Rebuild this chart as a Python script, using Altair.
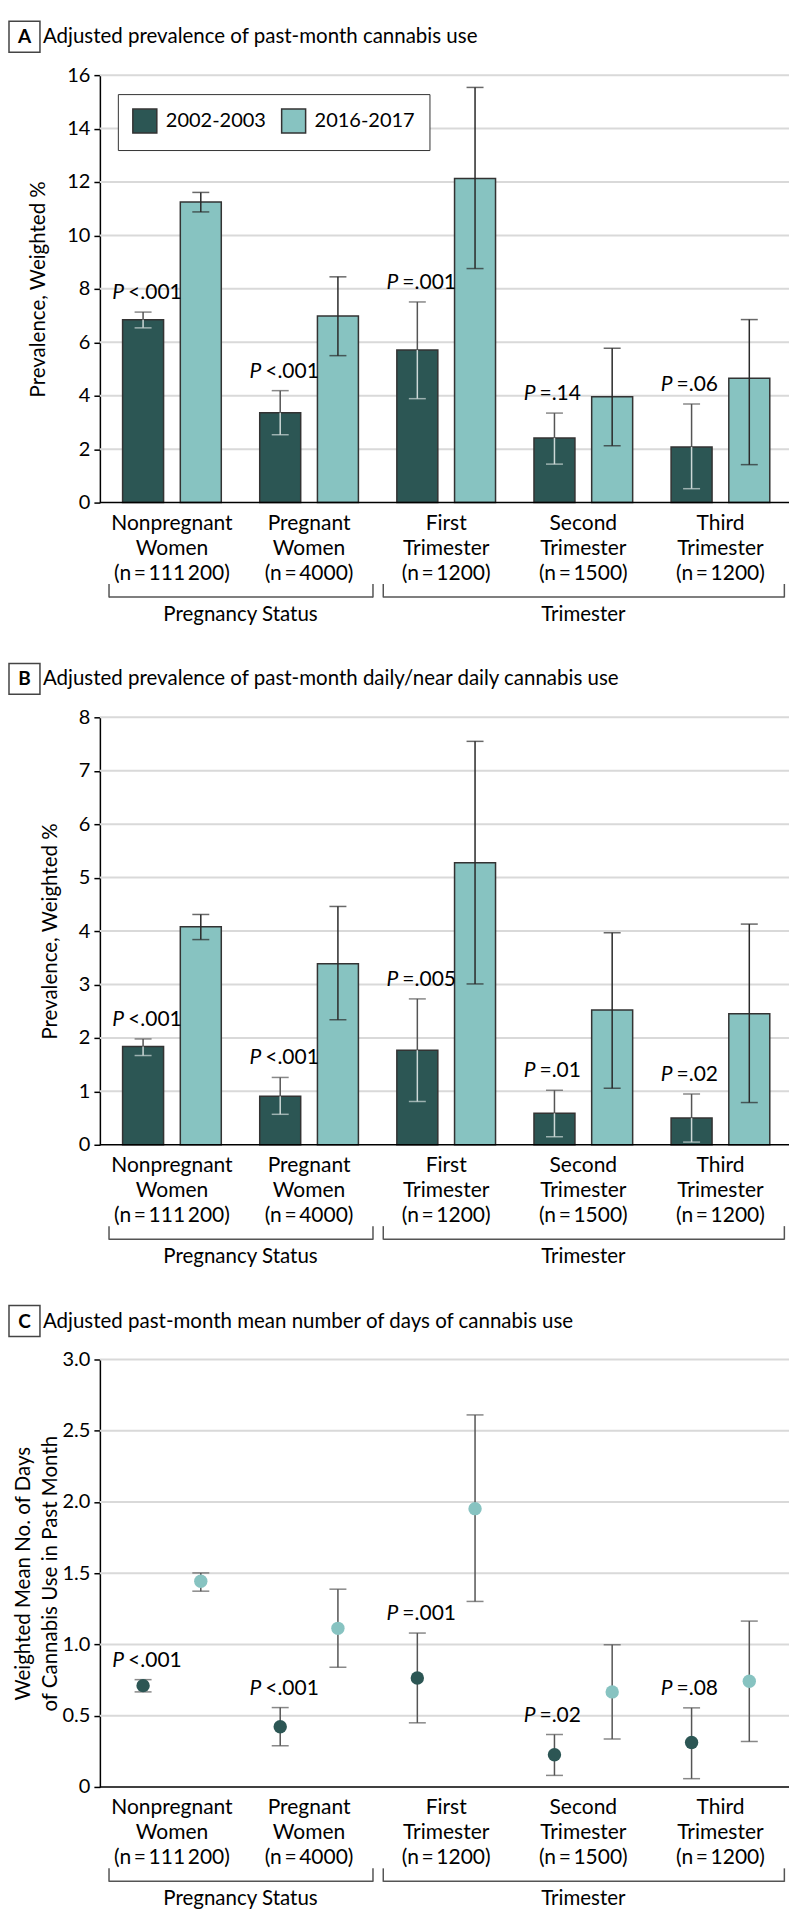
import altair as alt
import pandas as pd

FONT = "Lato"
DARK = "#2c5654"
LIGHT = "#87c3c1"
ERR_GRAY = "#555555"
ERR_LIGHT = "#cdd8d7"

TS = "\u2009"
groups = [
    f"Nonpregnant|Women|(n{TS}={TS}111{TS}200)",
    f"Pregnant|Women|(n{TS}={TS}4000)",
    f"First|Trimester|(n{TS}={TS}1200)",
    f"Second|Trimester|(n{TS}={TS}1500)",
    f"Third|Trimester|(n{TS}={TS}1200)",
]
periods = ["2002-2003", "2016-2017"]
bracket_labels = ["Pregnancy Status", "Trimester"]
bracket_start = [groups[0], groups[2]]
bracket_end = [groups[1], groups[4]]

# Panel A: past-month cannabis use (%)
a_title = "Adjusted prevalence of past-month cannabis use"
a_dark = [6.84, 3.36, 5.71, 2.42, 2.08]
a_dark_lo = [6.54, 2.54, 3.89, 1.44, 0.52]
a_dark_hi = [7.13, 4.19, 7.51, 3.35, 3.69]
a_light = [11.25, 6.98, 12.13, 3.96, 4.65]
a_light_lo = [10.88, 5.50, 8.76, 2.13, 1.42]
a_light_hi = [11.61, 8.45, 15.54, 5.78, 6.85]
a_p = ["<.001", "<.001", "=.001", "=.14", "=.06"]

# Panel B: daily/near daily use (%)
b_title = "Adjusted prevalence of past-month daily/near daily cannabis use"
b_dark = [1.84, 0.91, 1.77, 0.59, 0.50]
b_dark_lo = [1.67, 0.57, 0.81, 0.15, 0.05]
b_dark_hi = [1.98, 1.26, 2.73, 1.02, 0.95]
b_light = [4.08, 3.39, 5.28, 2.52, 2.45]
b_light_lo = [3.84, 2.34, 3.01, 1.06, 0.79]
b_light_hi = [4.31, 4.46, 7.55, 3.97, 4.13]
b_p = ["<.001", "<.001", "=.005", "=.01", "=.02"]

# Panel C: mean number of days
c_title = "Adjusted past-month mean number of days of cannabis use"
c_dark = [0.711, 0.422, 0.765, 0.226, 0.312]
c_dark_lo = [0.667, 0.289, 0.450, 0.081, 0.058]
c_dark_hi = [0.753, 0.557, 1.080, 0.368, 0.555]
c_light = [1.444, 1.113, 1.953, 0.667, 0.742]
c_light_lo = [1.374, 0.840, 1.302, 0.336, 0.319]
c_light_hi = [1.502, 1.388, 2.611, 0.998, 1.164]
c_p = ["<.001", "<.001", "=.001", "=.02", "=.08"]


def long_df(dark, dark_lo, dark_hi, light, light_lo, light_hi):
    rows = []
    for i, g in enumerate(groups):
        rows.append(dict(group=g, period=periods[0], value=dark[i], lo=dark_lo[i], hi=dark_hi[i]))
        rows.append(dict(group=g, period=periods[1], value=light[i], lo=light_lo[i], hi=light_hi[i]))
    return pd.DataFrame(rows)


W, H = 690, 428
xscale = alt.Scale(domain=groups, range=[3.5, 690], paddingInner=0, paddingOuter=0)
offscale = alt.Scale(domain=periods, paddingInner=0.29, paddingOuter=0.333)
xaxis = alt.Axis(
    title=None, labelExpr="split(datum.label, '|')", ticks=False, labelAngle=0,
    labelFontSize=21, labelLineHeight=25, labelPadding=10, labelColor="black",
    domain=False, labelOverlap=False, grid=False,
)


def X(bp=None):
    kw = dict(scale=xscale, axis=xaxis, sort=groups)
    if bp is not None:
        kw["bandPosition"] = bp
    return alt.X("group:N", **kw)


def XO():
    return alt.XOffset("period:N", scale=offscale, sort=periods)


def panel(letter, title, df, pvals, ymax, ystep, ytitle, kind, label_expr, show_legend, title_pad):
    yscale = alt.Scale(domain=[0, ymax], nice=False, zero=True)
    nsteps = int(round(ymax / ystep))
    yvals = [round(i * ystep, 3) for i in range(nsteps + 1)]
    yaxis = alt.Axis(
        title=ytitle, values=yvals, grid=False,
        domainColor="black", domainWidth=1.5, tickColor="black", tickSize=6, tickWidth=1.5,
        labelFontSize=20, labelPadding=4, labelColor="black", labelExpr=label_expr,
        titleFontSize=20.5, titleFontWeight="normal", titleColor="black", titlePadding=title_pad,
        titleLineHeight=27,
    )

    def Y(field):
        return alt.Y(f"{field}:Q", scale=yscale, axis=yaxis)

    head = pd.DataFrame({"letter": [letter], "title": [title]})
    grid_df = pd.DataFrame({"tick": yvals[1:]})
    grid = alt.Chart(grid_df).mark_rule(color="#d9d9d9", strokeWidth=2).encode(
        y=Y("tick"), x=alt.value(0), x2=alt.value(W))
    xdomain = alt.Chart(head).mark_rule(color="black", strokeWidth=1.5).encode(
        y=alt.value(H), x=alt.value(0), x2=alt.value(W))
    box = alt.Chart(head).mark_rect(fill="white", stroke="#444", strokeWidth=1.5).encode(
        x=alt.value(-91), x2=alt.value(-60), y=alt.value(-54), y2=alt.value(-23)
    )
    letter_t = alt.Chart(head).mark_text(fontSize=19, fontWeight="bold", align="center", baseline="middle").encode(
        x=alt.value(-75.5), y=alt.value(-38), text="letter:N"
    )
    title_t = alt.Chart(head).mark_text(fontSize=20.5, align="left", baseline="middle").encode(
        x=alt.value(-57), y=alt.value(-38), text="title:N"
    )

    if show_legend:
        legend = alt.Legend(
            title=None, orient="none", legendX=18, legendY=19, direction="horizontal", columns=2,
            strokeColor="#333", fillColor="white", padding=14, symbolType="square", symbolSize=576,
            symbolStrokeColor="#333", symbolStrokeWidth=1.5, symbolOpacity=1, labelFontSize=20,
            labelColor="black", labelOffset=8, columnPadding=12,
        )
    else:
        legend = None
    color = alt.Color("period:N", scale=alt.Scale(domain=periods, range=[DARK, LIGHT]), legend=legend)

    base = alt.Chart(df)
    dark_f = alt.datum.period == periods[0]
    light_f = alt.datum.period == periods[1]
    layers = [grid]
    if kind == "bar":
        layers.append(base.mark_bar(stroke="#333", strokeWidth=1.5).encode(x=X(), xOffset=XO(), y=Y("value"), color=color))
        layers.append(base.transform_filter(dark_f).mark_rule(color=ERR_GRAY, strokeWidth=1.5).encode(
            x=X(), xOffset=XO(), y=Y("value"), y2="hi"))
        layers.append(base.transform_filter(dark_f).mark_rule(color=ERR_LIGHT, strokeWidth=1.5).encode(
            x=X(), xOffset=XO(), y=Y("lo"), y2="value"))
        layers.append(base.transform_filter(dark_f).mark_tick(color=ERR_GRAY, size=17, thickness=1.5).encode(
            x=X(), xOffset=XO(), y=Y("hi")))
        layers.append(base.transform_filter(dark_f).mark_tick(color=ERR_LIGHT, size=17, thickness=1.5).encode(
            x=X(), xOffset=XO(), y=Y("lo")))
        layers.append(base.transform_filter(light_f).mark_rule(color="#2a2a2a", strokeWidth=1.5).encode(
            x=X(), xOffset=XO(), y=Y("lo"), y2="hi"))
        layers.append(base.transform_filter(light_f).mark_tick(color="#2a2a2a", size=17, thickness=1.5).encode(
            x=X(), xOffset=XO(), y=Y("hi")))
        layers.append(base.transform_filter(light_f).mark_tick(color="#2a2a2a", size=17, thickness=1.5).encode(
            x=X(), xOffset=XO(), y=Y("lo")))
    else:
        layers.append(base.mark_rule(color=ERR_GRAY, strokeWidth=1.5).encode(
            x=X(), xOffset=XO(), y=Y("lo"), y2="hi"))
        layers.append(base.mark_tick(color=ERR_GRAY, size=17, thickness=1.5).encode(
            x=X(), xOffset=XO(), y=Y("hi")))
        layers.append(base.mark_tick(color=ERR_GRAY, size=17, thickness=1.5).encode(
            x=X(), xOffset=XO(), y=Y("lo")))
        layers.append(base.mark_circle(size=180, opacity=1).encode(
            x=X(), xOffset=XO(), y=Y("value"), color=color))
    layers.append(xdomain)

    pdf = pd.DataFrame({"group": groups, "period": periods[0], "p": pvals,
                        "hi": [df[(df.group == g) & (df.period == periods[0])].hi.iloc[0] for g in groups]})
    pbase = alt.Chart(pdf)
    layers.append(pbase.mark_text(text="P", fontStyle="italic", fontSize=21, align="right", baseline="alphabetic",
                                  dx=-19, dy=-13).encode(x=X(), xOffset=XO(), y=Y("hi")))
    layers.append(pbase.mark_text(fontSize=21, align="left", baseline="alphabetic", dx=-15, dy=-13).encode(
        x=X(), xOffset=XO(), y=Y("hi"), text="p:N"))

    br = pd.DataFrame({"group": bracket_start, "end": bracket_end, "label": bracket_labels})
    br_end = pd.DataFrame({"group": bracket_end})
    layers.append(alt.Chart(br).mark_rule(color="#555", strokeWidth=1.5, xOffset=-63, x2Offset=64).encode(
        x=X(), x2=alt.X2("end"), y=alt.value(H + 94.5)))
    layers.append(alt.Chart(br).mark_rule(color="#555", strokeWidth=1.5, xOffset=-63).encode(
        x=X(), y=alt.value(H + 81.5), y2=alt.value(H + 95)))
    layers.append(alt.Chart(br_end).mark_rule(color="#555", strokeWidth=1.5, xOffset=64).encode(
        x=X(), y=alt.value(H + 81.5), y2=alt.value(H + 95)))
    gl1 = pd.DataFrame({"group": [groups[0]], "label": [bracket_labels[0]]})
    gl2 = pd.DataFrame({"group": [groups[3]], "label": [bracket_labels[1]]})
    layers.append(alt.Chart(gl1).mark_text(fontSize=20.5, align="center", baseline="alphabetic").encode(
        x=X(1), y=alt.value(H + 118.7), text="label:N"))
    layers.append(alt.Chart(gl2).mark_text(fontSize=20.5, align="center", baseline="alphabetic").encode(
        x=X(0.5), y=alt.value(H + 118.7), text="label:N"))

    layers += [box, letter_t, title_t]
    return alt.layer(*layers).properties(width=W, height=H)


dfA = long_df(a_dark, a_dark_lo, a_dark_hi, a_light, a_light_lo, a_light_hi)
dfB = long_df(b_dark, b_dark_lo, b_dark_hi, b_light, b_light_lo, b_light_hi)
dfC = long_df(c_dark, c_dark_lo, c_dark_hi, c_light, c_light_lo, c_light_hi)

pA = panel("A", a_title, dfA, a_p, 16, 2, "Prevalence, Weighted %", "bar", "datum.label", True, 18)
pB = panel("B", b_title, dfB, b_p, 8, 1, "Prevalence, Weighted %", "bar", "datum.label", False, 18)
pC = panel("C", c_title, dfC, c_p, 3, 0.5, ["Weighted Mean No. of Days", "of Cannabis Use in Past Month"],
           "point", "datum.value == 0 ? '0' : format(datum.value, '.1f')", False, 2)

chart = alt.vconcat(pA, pB, pC, spacing=215, bounds="flush").resolve_legend(color="independent").properties(
    padding={"top": 11, "left": 0, "right": 0, "bottom": 0}
).configure(font=FONT).configure_view(stroke=None)

chart.save("out.html", embed_options={"renderer": "svg", "actions": False})
